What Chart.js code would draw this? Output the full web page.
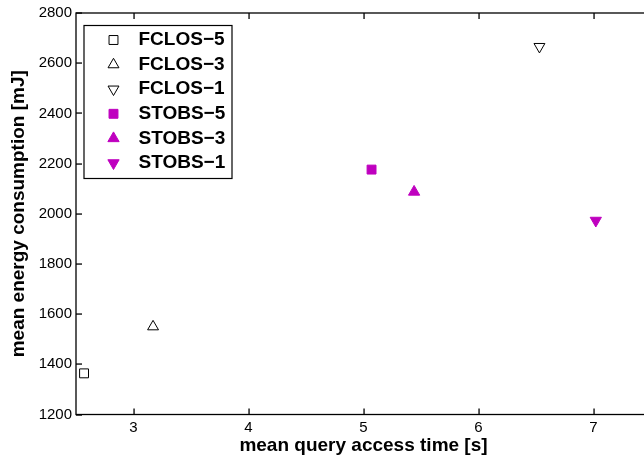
<!DOCTYPE html>
<html>
<head>
<meta charset="utf-8">
<script src="https://cdn.jsdelivr.net/npm/chart.js@4.4.1/dist/chart.umd.min.js"></script>
<style>
  html, body { margin:0; padding:0; width:644px; height:464px; overflow:hidden; background:#fff; }
  #wrap { position:absolute; left:0; top:0; width:680px; height:464px; }
</style>
</head>
<body>
<div id="wrap"><canvas id="chart" width="680" height="464"></canvas></div>
<script>
// données
const seriesNames = ['FCLOS\u22125', 'FCLOS\u22123', 'FCLOS\u22121', 'STOBS\u22125', 'STOBS\u22123', 'STOBS\u22121'];
const accessTime  = [2.57, 3.17, 6.53, 5.07, 5.44, 7.02];   // s
const energy      = [1364, 1550, 2666, 2176, 2087, 1973];   // mJ
const xTicks = [3, 4, 5, 6, 7];
const yTicks = [1200, 1400, 1600, 1800, 2000, 2200, 2400, 2600, 2800];
const xRange = [2.5, 7.5];
const yRange = [1200, 2800];

const MAGENTA = '#bf00bf';
const styles = [
  { pointStyle:'rect',     rotation:0,   radius:6.3, fill:'transparent' },
  { pointStyle:'triangle', rotation:0,   radius:6.3, fill:'transparent' },
  { pointStyle:'triangle', rotation:180, radius:6.3, fill:'transparent' },
  { pointStyle:'rect',     rotation:0,   radius:6.3, fill:MAGENTA },
  { pointStyle:'triangle', rotation:0,   radius:6.5, fill:MAGENTA },
  { pointStyle:'triangle', rotation:180, radius:6.5, fill:MAGENTA },
];

const datasets = seriesNames.map((name, i) => ({
  label: name,
  data: [{ x: accessTime[i], y: energy[i] }],
  pointStyle: styles[i].pointStyle,
  rotation: styles[i].rotation,
  pointRadius: styles[i].radius,
  backgroundColor: styles[i].fill,
  borderColor: styles[i].fill === 'transparent' ? '#000' : MAGENTA,
  borderWidth: 1,
  clip: false,
}));

// cadre + graduations intérieures (style matlab)
const framePlugin = {
  id: 'frame',
  afterDatasetsDraw(chart){
    const ctx = chart.ctx, a = chart.chartArea;
    const sx = chart.scales.x, sy = chart.scales.y;
    const tl = 6;
    ctx.save();
    ctx.strokeStyle = '#000';
    ctx.lineWidth = 1.3;
    ctx.strokeRect(a.left, a.top, a.right - a.left, a.bottom - a.top);
    ctx.fillStyle = '#000';
    for (const v of xTicks) {
      const px = Math.round(sx.getPixelForValue(v));
      ctx.fillRect(px - 0.6, a.bottom - tl, 1.3, tl);
      ctx.fillRect(px - 0.6, a.top, 1.3, tl);
    }
    for (const v of yTicks) {
      const py = Math.round(sy.getPixelForValue(v));
      ctx.fillRect(a.left, py - 0.6, tl, 1.3);
      ctx.fillRect(a.right - tl, py - 0.6, tl, 1.3);
    }
    ctx.restore();
  }
};

// légende encadrée dans la zone du graphe
const legendPlugin = {
  id: 'boxLegend',
  afterDraw(chart){
    const {ctx, chartArea:a} = chart;
    const bx = a.left + 8, by = a.top + 12.5, bw = 148, bh = 153;
    ctx.save();
    ctx.fillStyle = '#fff';
    ctx.fillRect(bx, by, bw, bh);
    ctx.strokeStyle = '#000';
    ctx.lineWidth = 1.2;
    ctx.strokeRect(bx, by, bw, bh);
    chart.data.datasets.forEach((ds, i) => {
      const cy = by + 14.5 + i * 24.6;
      ctx.fillStyle = ds.backgroundColor;
      ctx.strokeStyle = ds.borderColor;
      ctx.lineWidth = 1;
      Chart.helpers.drawPoint(ctx, { pointStyle: ds.pointStyle, rotation: ds.rotation, radius: ds.pointRadius, borderWidth: 1 }, bx + 29.5, cy);
      ctx.fillStyle = '#000';
      ctx.font = 'bold 19px "Liberation Sans", Arial, sans-serif';
      ctx.textBaseline = 'middle';
      ctx.textAlign = 'left';
      ctx.fillText(ds.label, bx + 54.5, cy);
    });
    ctx.restore();
  }
};

const tickFont = { family:'"Liberation Sans", Arial, sans-serif', size:15 };
const titleFont = { family:'"Liberation Sans", Arial, sans-serif', size:19, weight:'bold' };

new Chart(document.getElementById('chart'), {
  type: 'scatter',
  data: { datasets },
  options: {
    responsive: false,
    animation: false,
    devicePixelRatio: 1,
    layout: { padding: { left:0, top:12.5, right:29, bottom:0 } },
    plugins: { legend:{ display:false }, tooltip:{ enabled:false } },
    scales: {
      x: {
        type: 'linear', min: xRange[0], max: xRange[1],
        afterBuildTicks: s => { s.ticks = xTicks.map(v => ({ value:v })); },
        afterFit: s => { s.height = 49.5; },
        grid: { display:false, drawTicks:false },
        border: { display:false },
        ticks: { color:'#000', font:tickFont, padding:4, maxRotation:0, autoSkip:false, callback: v => String(v) },
        title: { display:true, text:'mean query access time [s]', color:'#000', font:titleFont, padding:{ top:0, bottom:7 } },
      },
      y: {
        type: 'linear', min: yRange[0], max: yRange[1],
        afterBuildTicks: s => { s.ticks = yTicks.map(v => ({ value:v })); },
        afterFit: s => { s.width = 76; },
        grid: { display:false, drawTicks:false },
        border: { display:false },
        ticks: { color:'#000', font:tickFont, padding:4, autoSkip:false, callback: v => String(v) },
        title: { display:true, text:'mean energy consumption [mJ]', color:'#000', font:titleFont, padding:{ top:7.6, bottom:0 } },
      }
    }
  },
  plugins: [framePlugin, legendPlugin]
});
</script>
</body>
</html>
